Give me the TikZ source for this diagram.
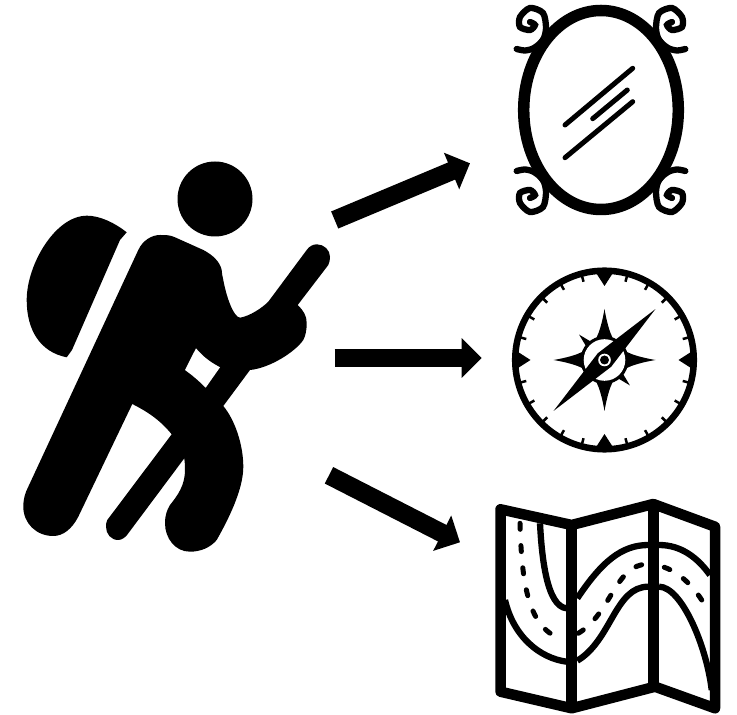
\documentclass[tikz,border=0pt]{standalone}
\usetikzlibrary{arrows.meta}

\def\px{0.02cm}

\tikzset{
  bigarrow/.style={line width=18.5*\px, -{Triangle[length=20*\px, width=38.5*\px]}},
  mirrorline/.style={line width=5*\px, line cap=round},
  mapframe/.style={line width=10.5*\px, line join=round},
  roadline/.style={line width=6.3*\px},
  roaddash/.style={line width=5*\px, line cap=round, dash pattern=on 6*\px off 16.3*\px}
}

\begin{document}
\begin{tikzpicture}[x=\px, y=-\px]

\fill[white] (0,0) rectangle (737,715);

%---------------------------------------
% Hiker
%---------------------------------------
\fill (215,199) circle (37.5);

% Backpack
\fill (126.7,232.3) .. controls (115,223) and (100,215.7) .. (87,215.7)
  .. controls (55,215.7) and (26.7,265) .. (26.7,300)
  .. controls (26.7,330) and (40,352) .. (66.7,357.3)
  -- (72,350) -- (120,240) -- cycle;

% Body, legs and stick
\fill (138.3,250) .. controls (143,240) and (152,235) .. (160,235)
  .. controls (166,235) and (170,235) .. (175,237.3)
  -- (203.3,250)
  .. controls (213,255) and (220,262) .. (221.7,270)
  .. controls (222,274) and (222.5,277) .. (223.3,280)
  .. controls (226,295) and (233,317) .. (240,317.7)
  .. controls (250,316) and (262,308) .. (268.3,301.7)
  -- (306.7,250)
  .. controls (309,246.5) and (313,244.3) .. (316.7,244.3)
  .. controls (324,244.3) and (330,250) .. (330,256.7)
  .. controls (330,260) and (329.5,262.5) .. (328.3,265)
  -- (297.7,305)
  .. controls (303,310) and (307,316) .. (306.7,323.3)
  .. controls (306.7,330) and (305.5,336) .. (303.3,340)
  .. controls (295,352) and (270,368) .. (250,370)
  -- (223.3,406)
  .. controls (235,420) and (243.3,445) .. (243.3,466.7)
  .. controls (243.3,490) and (228,520) .. (216.7,540)
  .. controls (210,548) and (200,551.7) .. (190,551.7)
  .. controls (175,551.7) and (165,538) .. (165,523.3)
  .. controls (165,515) and (167,510) .. (170,505)
  .. controls (178,495) and (185,485) .. (185,470)
  .. controls (185,465) and (184.8,462) .. (184.3,458.3)
  -- (128.3,533.3)
  .. controls (126,537) and (122,540) .. (118.3,540)
  .. controls (111,540) and (106,534) .. (106,526.7)
  .. controls (106,524) and (106.3,522) .. (107.3,520)
  -- (171.7,434.3)
  .. controls (160,420) and (148,412) .. (132.3,404)
  -- (78.3,516.7)
  .. controls (72,529) and (63,536) .. (53.3,536)
  .. controls (36,536) and (23.3,523) .. (23.3,506.7)
  .. controls (23.3,499) and (25,493) .. (28.3,486.7)
  -- cycle;

% Gap between arm and stick
\fill[white] (196,348.3) .. controls (204,358) and (212,363) .. (220,367.3)
  -- (205.7,387.7) .. controls (198,380) and (192,375) .. (185,370) -- cycle;

%---------------------------------------
% Arrows
%---------------------------------------
\coordinate (hikerTop) at (334.7,220);
\coordinate (mirrorIn) at (470,163.3);
\coordinate (hikerMid) at (334.7,358);
\coordinate (compassIn) at (481.7,358);
\coordinate (hikerLow) at (329,475.3);
\coordinate (mapIn) at (460,542.3);

\draw[bigarrow] (hikerTop) -- (mirrorIn);
\draw[bigarrow] (hikerMid) -- (compassIn);
\draw[bigarrow] (hikerLow) -- (mapIn);

%---------------------------------------
% Mirror
%---------------------------------------
\draw[line width=11.5*\px] (601,110) ellipse (77.3 and 99.5);

\draw[mirrorline] (565,125) -- (632.7,68.3);
\draw[mirrorline] (592.7,118.7) -- (627.3,90);
\draw[mirrorline] (565,157.7) -- (632.7,101.7);

% Corner curls
\foreach \sx/\sy in {1/1,-1/1,1/-1,-1/-1} {
  \begin{scope}[shift={(601,110)}, xscale=\sx, yscale=\sy]
    \draw[mirrorline, line width=6.3*\px] plot[smooth] coordinates {(-84.3,-61) (-76,-59.5) (-67,-62) (-58,-70)
      (-55,-82) (-58,-97) (-71,-102) (-81,-93) (-81,-83) (-71,-80) (-66,-85) (-71,-88)};
  \end{scope}
}

%---------------------------------------
% Compass
%---------------------------------------
\begin{scope}[shift={(604.5,360)}]
  \draw[line width=6.5*\px] (0,0) circle (89.3);

  % Ticks
  \foreach \a in {15,30,...,345} {
    \draw[line width=2.5*\px, rotate=\a] (0,-88) -- (0,-81);
  }

  % Star, edge marks
  \foreach \a in {0,90,180,270} {
    \fill[rotate=\a] (-9,-88) -- (0,-74) -- (9,-88) -- cycle;
    \fill[rotate=\a] (-9,-20) -- (-6,-27) .. controls (-3,-35) and (-1,-45) .. (0,-51)
      .. controls (1,-45) and (3,-35) .. (6,-27) -- (9,-20) -- cycle;
  }
  \foreach \a in {45,225} {
    \fill[rotate=\a] (-3.5,-22) -- (0,-36) -- (3.5,-22) -- cycle;
  }

  % Needle and hub
  \fill (0,0) circle (24);
  \fill[white] (0,0) circle (20.8);
  \fill[rotate=-45] (0,-72) -- (9.5,0) -- (0,72) -- (-9.5,0) -- cycle;
  \fill (0,0) circle (9);
  \fill[white] (0,0) circle (6.3);
  \fill (0,0) circle (4.5);
\end{scope}

%---------------------------------------
% Map
%---------------------------------------
% Roads
\draw[roadline] (540,523.3) .. controls (541.7,556.7) and (546.7,606.7) .. (566.7,608.3);
\draw[roadline] (505,600) .. controls (513.3,636.7) and (540,658.3) .. (566.7,661.7);
\draw[roadline] (577.3,598.3) .. controls (601.7,561.7) and (621.7,545) .. (648.3,545);
\draw[roadline] (659,545) .. controls (681.7,545) and (698,558.3) .. (710,575);
\draw[roadline] (577.3,660.7) .. controls (611.7,640) and (615,586.7) .. (648.3,586.7);
\draw[roadline] (659,586.7) .. controls (681.7,586.7) and (706.7,646.7) .. (711.7,690);

% Centre dashes
\draw[roaddash] (520,523.3) .. controls (521.7,583.3) and (528,630) .. (563.3,639.3);
\draw[roaddash] (578.3,633.3) .. controls (611.7,613.3) and (615,564) .. (648.3,564);
\draw[roaddash] (664.3,567.3) .. controls (681.7,573.3) and (696.7,590) .. (706.7,608.3);

% Frame and folds
\draw[mapframe] (500.5,509.3) -- (571.7,525) -- (653.3,504) -- (715,526.7) -- (715,708.3)
  -- (655,686.7) -- (571.7,708.3) -- (500.5,691.7) -- cycle;
\draw[line width=10.5*\px] (571.7,525) -- (571.7,708.3);
\draw[line width=10.5*\px] (653.3,504) -- (653.3,686.7);

\end{tikzpicture}
\end{document}
